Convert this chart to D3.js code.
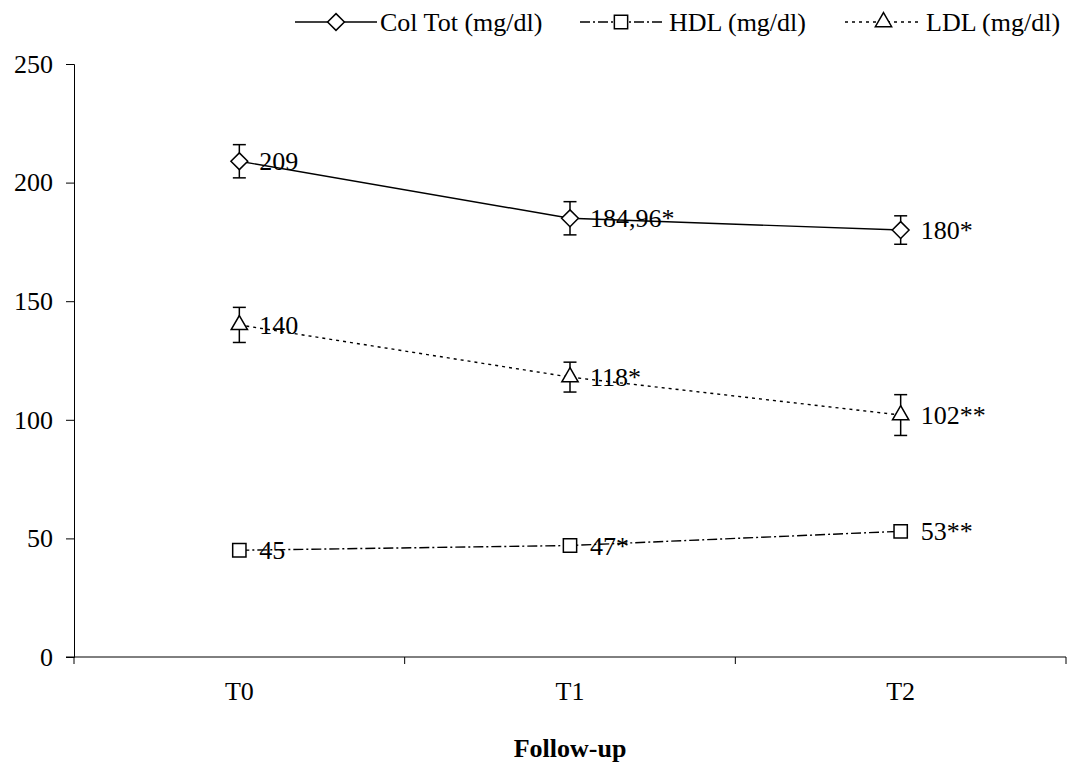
<!DOCTYPE html>
<html>
<head>
<meta charset="utf-8">
<script src="https://cdn.jsdelivr.net/npm/d3@7"></script>
<style>
  html, body { margin: 0; padding: 0; background: #fff; }
  svg text { font-family: "Liberation Serif", "Times New Roman", serif; fill: #000; }
</style>
</head>
<body>
<svg id="chart" width="1068" height="769"></svg>
<script>
// Follow-up times
const categories = ["T0", "T1", "T2"];

// Mean values (mg/dl) and their error bars
const colTot = [209, 184.96, 180];
const colTotErr = [7, 7, 6];
const colTotLabels = ["209", "184,96*", "180*"];

const hdl = [45, 47, 53];
const hdlErr = [2, 2, 2];
const hdlLabels = ["45", "47*", "53**"];

const ldl = [140, 118, 102];
const ldlErr = [7.4, 6.3, 8.6];
const ldlLabels = ["140", "118*", "102**"];

const yTicks = [0, 50, 100, 150, 200, 250];

const seriesNames = ["Col Tot (mg/dl)", "HDL (mg/dl)", "LDL (mg/dl)"];

const series = [
  { name: seriesNames[0], values: colTot, err: colTotErr, labels: colTotLabels, dash: null, symbol: d3.symbolDiamond2, size: 180 },
  { name: seriesNames[1], values: hdl, err: hdlErr, labels: hdlLabels, dash: "10,3,2,3", symbol: d3.symbolSquare2, size: 225 },
  { name: seriesNames[2], values: ldl, err: ldlErr, labels: ldlLabels, dash: "3,4", symbol: d3.symbolTriangle2, size: 190 }
];

const svg = d3.select("#chart");
const margin = { left: 74, right: 2, top: 64, bottom: 112 };
const W = 1068, H = 769;

const x = d3.scaleBand().domain(categories).range([margin.left, W - margin.right]);
const y = d3.scaleLinear().domain([0, 250]).range([H - margin.bottom, margin.top]);

const fontSize = 26;

// Y axis
const yAxis = svg.append("g")
  .attr("transform", `translate(${margin.left},0)`)
  .call(d3.axisLeft(y).tickValues(yTicks).tickSize(8).tickPadding(13));
yAxis.selectAll("text").style("font-size", fontSize + "px");
yAxis.select(".domain").attr("stroke-width", 1);

// X axis with ticks on the category boundaries
const xAxisG = svg.append("g").attr("transform", `translate(0,${y(0)})`);
xAxisG.append("line")
  .attr("x1", margin.left - 8).attr("x2", W - margin.right)
  .attr("stroke", "#000").attr("stroke-width", 1);
const boundaries = categories.map(c => x(c)).concat([x(categories[categories.length - 1]) + x.bandwidth()]);
xAxisG.selectAll(".xb").data(boundaries).enter().append("line")
  .attr("x1", d => d).attr("x2", d => d)
  .attr("y1", 0).attr("y2", 7)
  .attr("stroke", "#000").attr("stroke-width", 1);
xAxisG.selectAll(".xl").data(categories).enter().append("text")
  .attr("x", d => x(d) + x.bandwidth() / 2)
  .attr("y", 43)
  .attr("text-anchor", "middle")
  .style("font-size", fontSize + "px")
  .text(d => d);

// Axis title
svg.append("text")
  .attr("x", (margin.left + W - margin.right) / 2)
  .attr("y", 757)
  .attr("text-anchor", "middle")
  .style("font-size", "26px")
  .style("font-weight", "bold")
  .text("Follow-up");

const cx = c => x(c) + x.bandwidth() / 2;

series.forEach(s => {
  const g = svg.append("g");
  const pts = categories.map((c, i) => ({ c, v: s.values[i], e: s.err[i], l: s.labels[i] }));

  g.append("path")
    .datum(pts)
    .attr("fill", "none")
    .attr("stroke", "#000")
    .attr("stroke-width", 1.4)
    .attr("stroke-dasharray", s.dash)
    .attr("d", d3.line().x(d => cx(d.c)).y(d => y(d.v)));

  // error bars
  pts.forEach(p => {
    const xx = cx(p.c);
    const eb = g.append("g").attr("stroke", "#000").attr("stroke-width", 1.5);
    eb.append("line").attr("x1", xx).attr("x2", xx).attr("y1", y(p.v + p.e)).attr("y2", y(p.v - p.e));
    eb.append("line").attr("x1", xx - 6.5).attr("x2", xx + 6.5).attr("y1", y(p.v + p.e)).attr("y2", y(p.v + p.e));
    eb.append("line").attr("x1", xx - 6.5).attr("x2", xx + 6.5).attr("y1", y(p.v - p.e)).attr("y2", y(p.v - p.e));
  });

  // markers
  g.selectAll(".m").data(pts).enter().append("path")
    .attr("transform", d => `translate(${cx(d.c)},${y(d.v)})`)
    .attr("d", d3.symbol().type(s.symbol).size(s.size))
    .attr("fill", "#fff")
    .attr("stroke", "#000")
    .attr("stroke-width", 1.5);

  // value labels
  g.selectAll(".l").data(pts).enter().append("text")
    .attr("x", d => cx(d.c) + 20)
    .attr("y", d => y(d.v) + 9)
    .style("font-size", fontSize + "px")
    .text(d => d.l);
});

// Legend
const legendItems = [
  { s: series[0], x0: 295, x1: 377, tx: 380 },
  { s: series[1], x0: 580, x1: 662, tx: 669 },
  { s: series[2], x0: 845, x1: 922, tx: 926 }
];
const ly = 22;
const leg = svg.append("g");
legendItems.forEach(it => {
  leg.append("line")
    .attr("x1", it.x0).attr("x2", it.x1).attr("y1", ly).attr("y2", ly)
    .attr("stroke", "#000").attr("stroke-width", 1.4)
    .attr("stroke-dasharray", it.s.dash);
  leg.append("path")
    .attr("transform", `translate(${(it.x0 + it.x1) / 2},${ly})`)
    .attr("d", d3.symbol().type(it.s.symbol).size(it.s.size))
    .attr("fill", "#fff").attr("stroke", "#000").attr("stroke-width", 1.5);
  leg.append("text")
    .attr("x", it.tx).attr("y", ly + 9)
    .style("font-size", fontSize + "px")
    .text(it.s.name);
});
</script>
</body>
</html>
